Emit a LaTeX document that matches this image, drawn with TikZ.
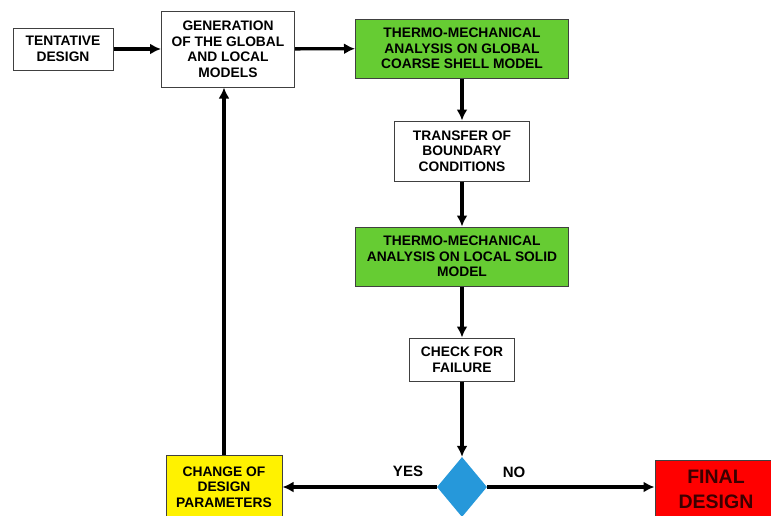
\documentclass[tikz,border=0pt]{standalone}
\usepackage{fontspec}
\setmainfont{Liberation Sans}
\usepackage{tikz}
\usetikzlibrary{shapes.geometric}
\usetikzlibrary{arrows.meta}
\tikzset{>={Latex[length=11pt, width=11pt]}}
\definecolor{boxgreen}{RGB}{102,204,51}
\definecolor{dblue}{RGB}{38,152,218}
\definecolor{dkred}{RGB}{60,0,0}
\tikzset{
    blk/.style={draw=black!75, line width=1pt, align=center, inner sep=0pt,
        font=\fontsize{13.8}{15.5}\selectfont\bfseries},
    flow/.style={->, line width=3.3pt},
    lbl/.style={font=\fontsize{15}{17}\selectfont\bfseries, inner sep=0pt},
}

\begin{document}
\begin{tikzpicture}[x=1pt, y=-1pt]
    \useasboundingbox (0, 0) rectangle (771, 515);
    \clip (0, 0) rectangle (771, 515);
    \node[blk, minimum width=100pt, minimum height=42pt](tent) at (63, 49){TENTATIVE\\DESIGN};
    \node[blk, minimum width=133pt, minimum height=76pt](gen) at (228, 49){GENERATION\\OF THE GLOBAL\\AND LOCAL\\MODELS};
    \node[blk, fill=boxgreen, minimum width=213pt, minimum height=59pt](glob) at (462, 48.5){THERMO-MECHANICAL\\ANALYSIS ON GLOBAL\\COARSE SHELL MODEL};
    \node[blk, minimum width=135pt, minimum height=60pt](trans) at (462, 151){TRANSFER OF\\BOUNDARY\\CONDITIONS};
    \node[blk, fill=boxgreen, minimum width=213pt, minimum height=59pt](loc) at (462, 256.5){THERMO-MECHANICAL\\ANALYSIS ON LOCAL SOLID\\MODEL};
    \node[blk, minimum width=105pt, minimum height=43pt](chk) at (462, 359.5){CHECK FOR\\FAILURE};
    \node[diamond, fill=dblue, inner sep=0pt, minimum width=50pt, minimum height=60pt](dec) at (462, 487){};
    \node[blk, fill=yellow, minimum width=116pt, minimum height=64pt](chg) at (224, 487){CHANGE OF\\DESIGN\\PARAMETERS};
    \node[blk, fill=red, text=dkred, minimum width=122pt, minimum height=58pt,
        font=\fontsize{19.5}{25}\selectfont\bfseries](fin) at (716, 489){FINAL\\DESIGN};
    \node[lbl](yes) at (408, 471){YES};
    \node[lbl](no) at (514, 472){NO};
    \draw[flow](tent)--(gen);
    \draw[flow](gen)--(glob);
    \draw[flow](glob)--(trans);
    \draw[flow](trans)--(loc);
    \draw[flow](loc)--(chk);
    \draw[flow](chk)--(dec);
    \draw[flow](dec.west)--(chg.east);
    \draw[flow](dec.east)--(dec.east -| fin.west);
    \draw[flow](chg.north)--(chg.north |- gen.south);
\end{tikzpicture}
\end{document}
